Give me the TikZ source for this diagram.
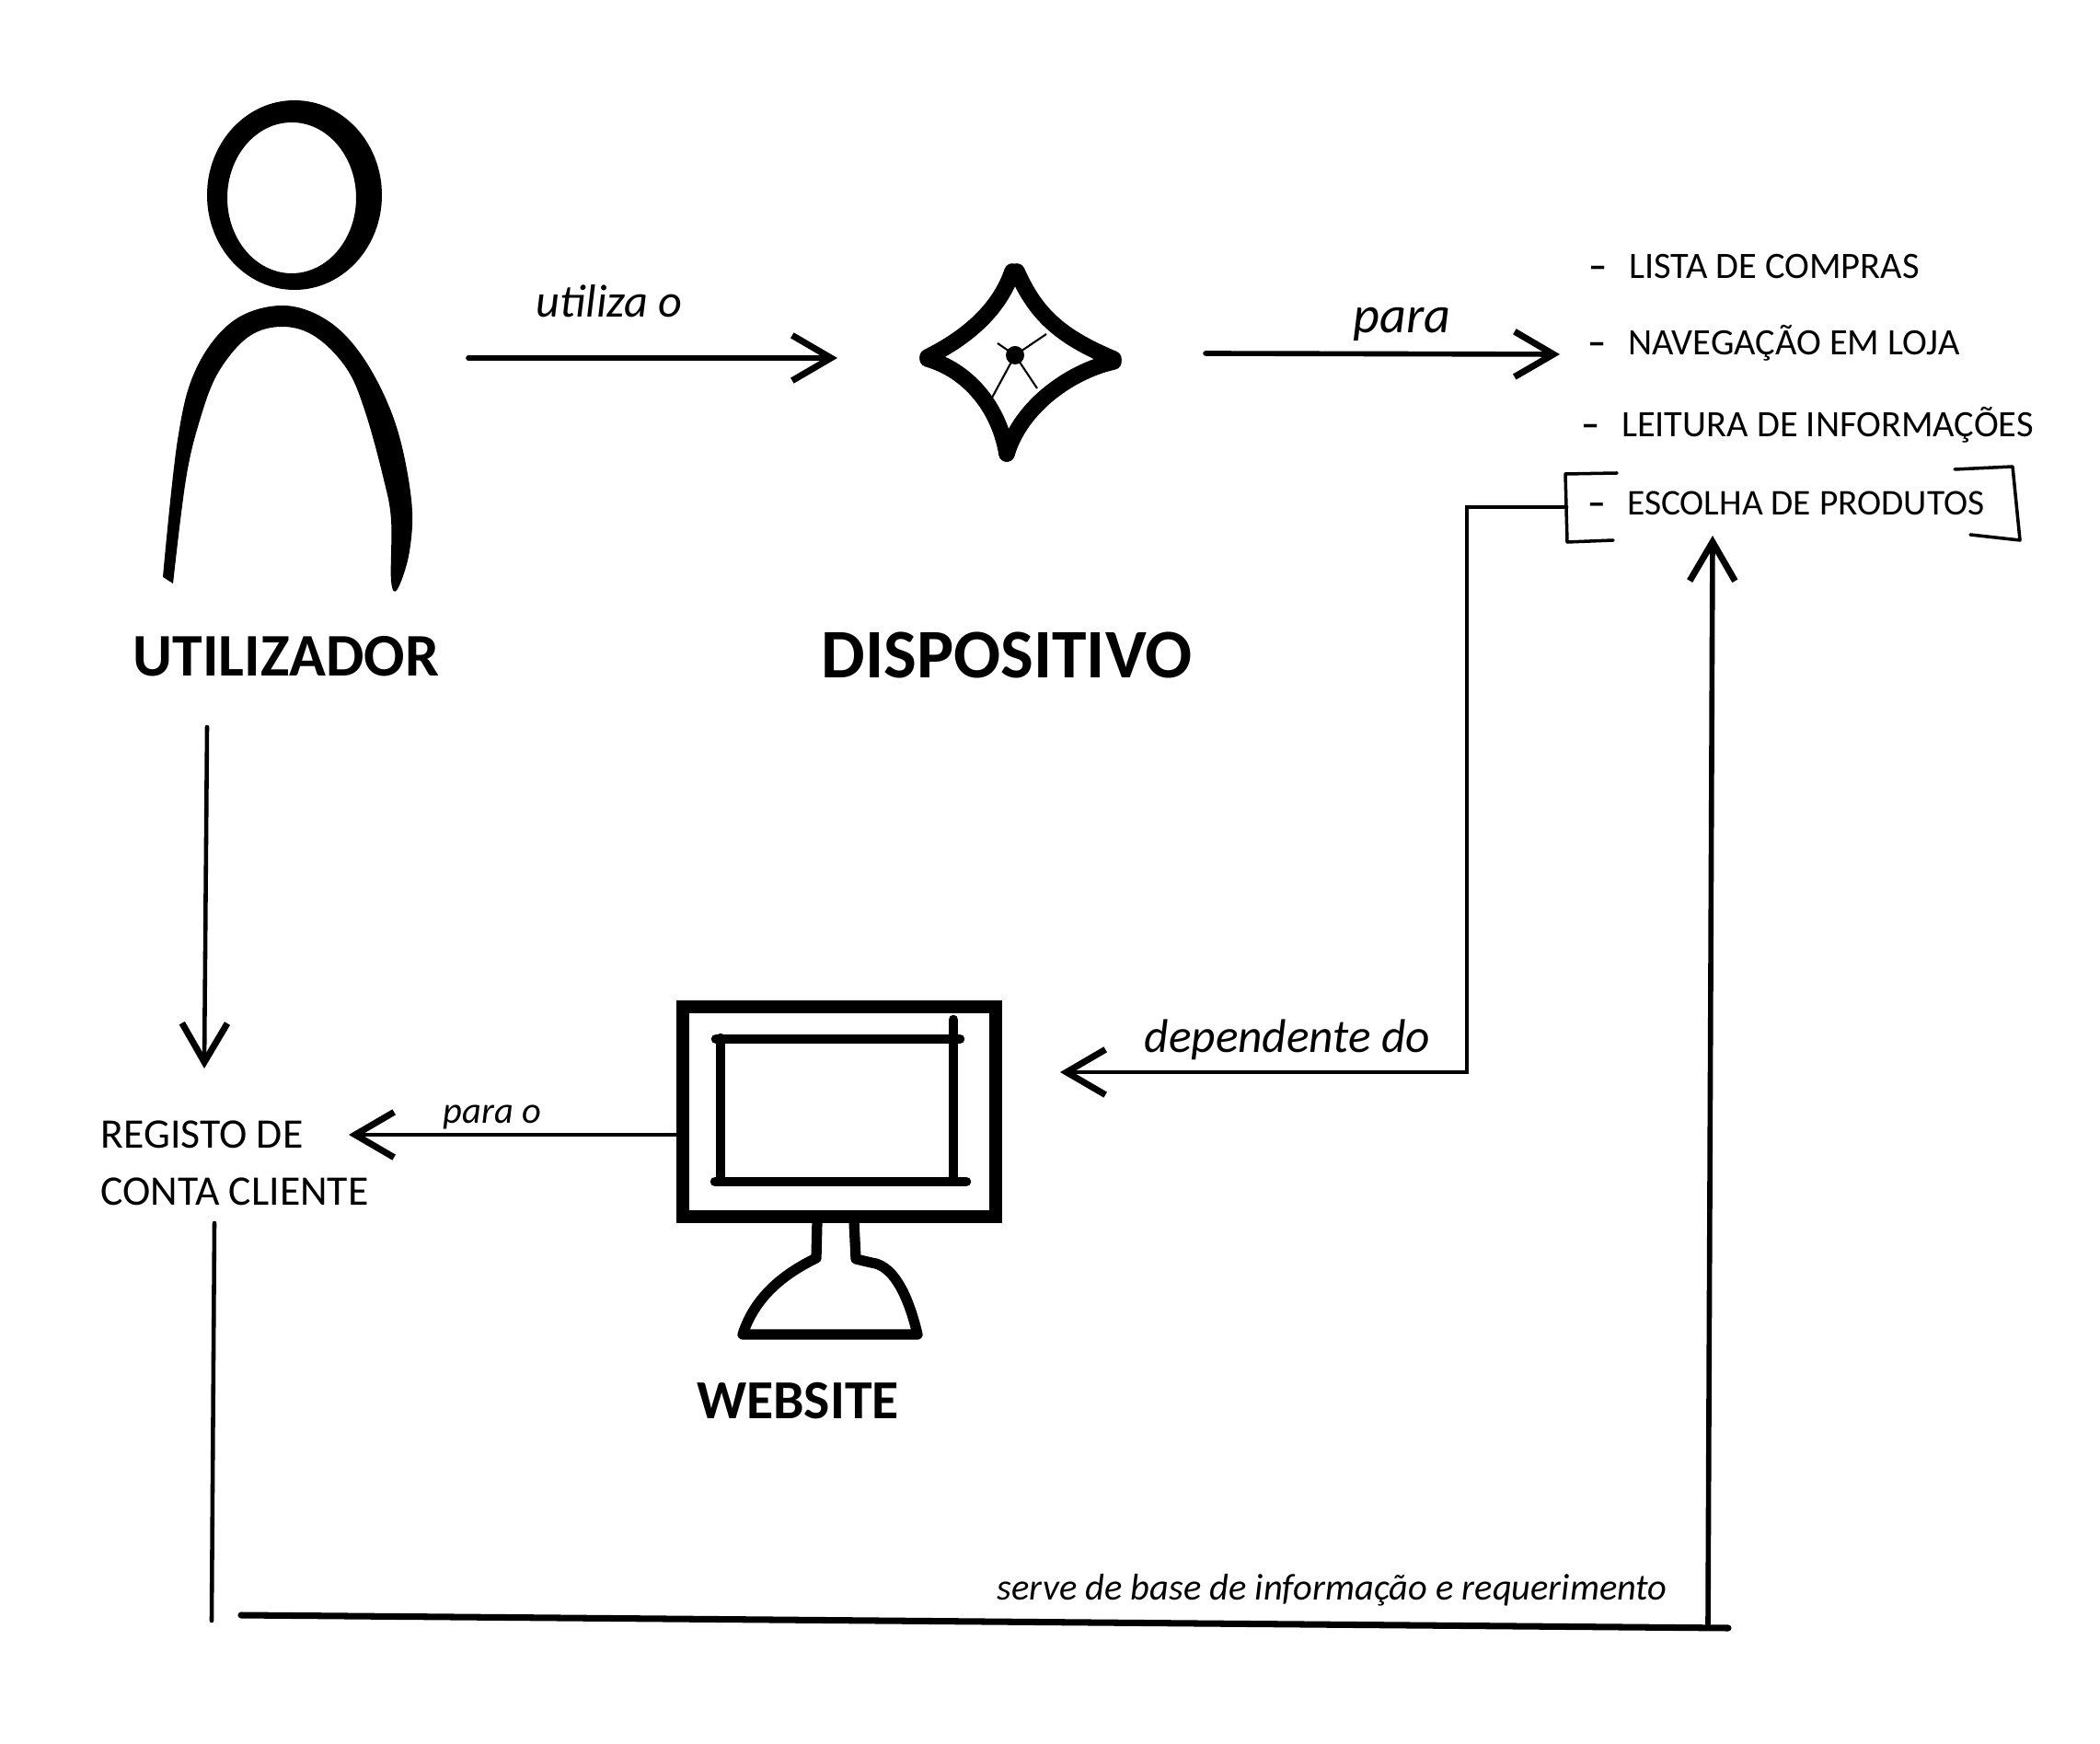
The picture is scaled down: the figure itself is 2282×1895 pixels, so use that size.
\documentclass[tikz,border=0pt]{standalone}
\usepackage{fontspec}
\setmainfont{Carlito}
\usetikzlibrary{arrows.meta}

\tikzset{
	connector/.style={line width=1.3pt, line cap=round},
	barbHead/.style={-{Straight Barb[length=12pt, width=14pt, line width=2pt]}},
	bigLabel/.style={font=\fontsize{18.7}{20}\selectfont\bfseries, inner sep=0pt},
	listLabel/.style={font=\fontsize{11.5}{14}\selectfont, anchor=west, inner sep=0pt},
	handLabel/.style={font=\itshape, anchor=base west, inner sep=0pt},
	monitorFrame/.style={draw, line width=4pt, minimum width=3.40cm, minimum height=2.27cm, inner sep=0pt},
	screenLine/.style={line width=3pt, line cap=round},
	bracketLine/.style={line width=1pt, line cap=round, line join=round}
}

\begin{document}
\begin{tikzpicture}[x=0.01cm, y=-0.01cm]

	\useasboundingbox (0,0) rectangle (2282,1895);

	% The person: head ring, then the shoulders with the heavier right side
	\fill[even odd rule] (320,212) ellipse [x radius=95, y radius=103]
		(317,215) ellipse [x radius=70, y radius=82];
	\fill plot [smooth, tension=0.6] coordinates {(177,627) (193,478) (213,401) (253,349) (307,332)
		(357,349) (397,392) (430,461) (447,543) (445,599) (432,640) (425,631) (425,565)
		(417,521) (397,448) (377,401) (343,366) (307,355) (270,366) (237,405) (217,457)
		(202,521) (188,634)};
	\node[bigLabel] (Utilizador) at (311,713) {UTILIZADOR};

	% The device: four curved sides and a centre with its thin needles
	\begin{scope}[line width=5pt, line cap=round]
		\draw (1008,388) .. controls (1060,362) and (1088,330) .. (1100,295);
		\draw (1105,295) .. controls (1125,340) and (1150,365) .. (1210,390);
		\draw (1210,393) .. controls (1165,403) and (1110,440) .. (1094,493);
		\draw (1094,493) .. controls (1085,440) and (1050,402) .. (1008,390);
	\end{scope}
	\coordinate (Star) at (1103,386);
	\fill (Star) circle [radius=10];
	\draw[line width=0.6pt] (1084,373) -- (Star) -- (1137,363);
	\draw[line width=0.6pt] (1078,432) -- (Star) -- (1127,422);
	\node[bigLabel, font=\fontsize{21.5}{23}\selectfont\bfseries] (Dispositivo) at (1094,712) {DISPOSITIVO};

	% The list on the right
	\node[listLabel] (Lista) at (1726,290) {\textbf{–} \hspace{4pt}LISTA DE COMPRAS};
	\node[listLabel] (Navegacao) at (1725,373) {\textbf{–} \hspace{4pt}NAVEGAÇÃO EM LOJA};
	\node[listLabel] (Leitura) at (1718,462) {\textbf{–} \hspace{4pt}LEITURA DE INFORMAÇÕES};
	\node[inner sep=0pt, minimum width=4.92cm, minimum height=0.74cm] (Escolha) at (1949,551) {};
	\node[listLabel, font=\fontsize{11.2}{14}\selectfont] (EscolhaText) at (1725,547) {\textbf{–} \hspace{4pt}ESCOLHA DE PRODUTOS};
	\draw[bracketLine] (1757,514) -- (1701,515) -- (1703,589) -- (1753,587);
	\draw[bracketLine] (2124,510) -- (2187,507) -- (2195,587) -- (2141,581);

	% The monitor
	\node[monitorFrame] (Monitor) at (912,1208) {};
	\draw[screenLine] (778,1129) -- (1043,1129);
	\draw[screenLine] (777,1284) -- (1050,1284);
	\draw[screenLine] (783,1128) -- (783,1280);
	\draw[screenLine] (1036,1108) -- (1036,1280);
	\draw[line width=3.2pt, line join=round, line cap=round] (888,1327) -- (887,1367)
		.. controls (850,1385) and (820,1410) .. (807,1450) -- (997,1450)
		.. controls (990,1420) and (975,1375) .. (947,1372) -- (930,1368) -- (928,1327);
	\node[bigLabel, font=\fontsize{17}{20}\selectfont\bfseries] (Website) at (867,1522) {WEBSITE};

	\node[listLabel, align=left, font=\fontsize{13}{17.6}\selectfont] (Registo) at (109,1264) {REGISTO DE\\CONTA CLIENTE};

	% Free ends of the connectors
	\coordinate (UserOut) at (509,389);
	\coordinate (DeviceIn) at (910,389);
	\coordinate (DeviceOut) at (1310,384);
	\coordinate (ListIn) at (1695,385);
	\coordinate (UserDown) at (225,790);
	\coordinate (RegistoIn) at (222,1161);
	\coordinate (RegistoSide) at (379,1233);
	\coordinate (EscolhaOut) at (1594,551);
	\coordinate (DependCorner) at (1594,1165);
	\coordinate (MonitorIn) at (1152,1165);
	\coordinate (RegistoOut) at (233,1329);
	\coordinate (BaseEnd) at (230,1761);
	\coordinate (BaseLeft) at (262,1755);
	\coordinate (BaseRight) at (1878,1769);
	\coordinate (UpStart) at (1856,1765);
	\coordinate (UpEnd) at (1861,582);

	% Connectors
	\draw[connector, line width=1.6pt, barbHead] (UserOut) -- (DeviceIn);
	\draw[connector, line width=1.6pt, barbHead] (DeviceOut) -- (ListIn);
	\draw[connector, barbHead] (UserDown) -- (RegistoIn);
	\draw[connector, barbHead] (Monitor.west |- RegistoSide) -- (RegistoSide);
	\draw[connector, barbHead] (Escolha.west) -- (EscolhaOut) -- (DependCorner) -- (MonitorIn);
	\draw[connector] (RegistoOut) -- (BaseEnd);
	\draw[connector, line width=2pt] (BaseLeft) -- (BaseRight);
	\draw[connector, line width=1.6pt, barbHead] (UpStart) -- (UpEnd);

	% Labels on the connectors
	\node[handLabel, font=\fontsize{14.3}{16}\selectfont\itshape] (UtilizaO) at (582,345) {utiliza o};
	\node[handLabel, font=\fontsize{16}{18}\selectfont\itshape] (ParaList) at (1470,362) {para};
	\node[handLabel, font=\fontsize{11.5}{14}\selectfont\itshape] (ParaO) at (481,1220) {para o};
	\node[handLabel, font=\fontsize{14.6}{17}\selectfont\itshape] (Dependente) at (1243,1143) {dependente do};
	\node[handLabel, font=\fontsize{11.5}{14}\selectfont\itshape] (Serve) at (1083,1738) {serve de base de informação e requerimento};

\end{tikzpicture}
\end{document}
